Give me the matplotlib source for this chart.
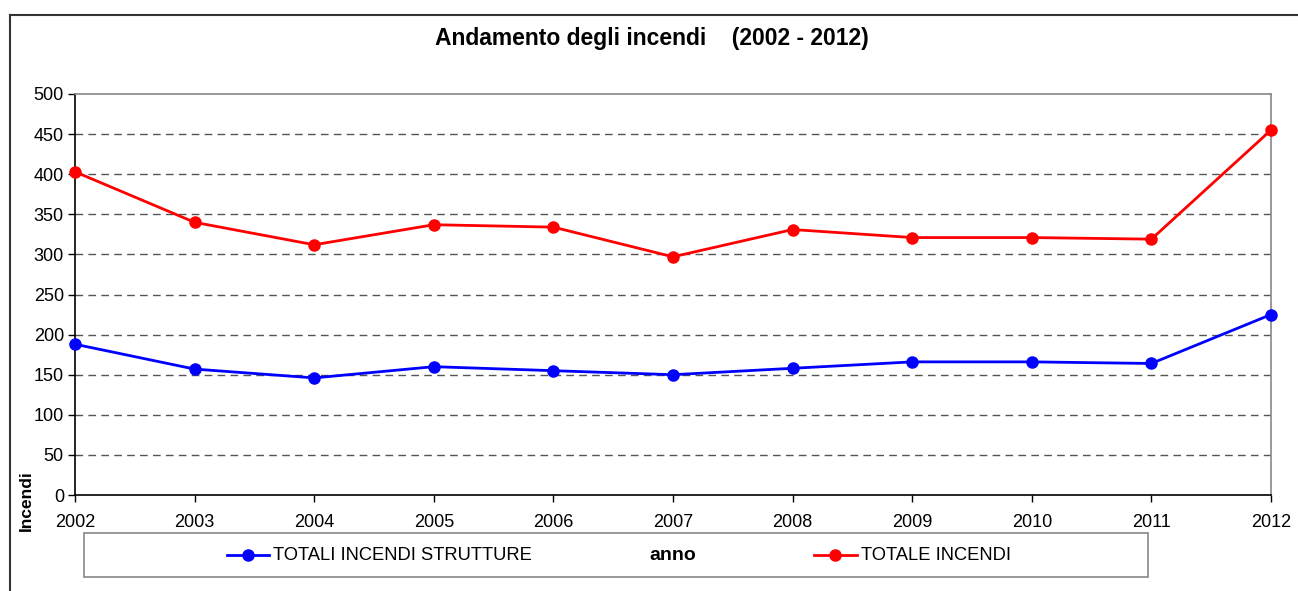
import matplotlib
matplotlib.use("Agg")
import matplotlib.pyplot as plt
from matplotlib.lines import Line2D
from matplotlib.patches import Rectangle

years = [2002, 2003, 2004, 2005, 2006, 2007, 2008, 2009, 2010, 2011, 2012]
totale_incendi = [403, 340, 312, 337, 334, 297, 331, 321, 321, 319, 455]
totali_strutture = [188, 157, 146, 160, 155, 150, 158, 166, 166, 164, 225]
yticks = [0, 50, 100, 150, 200, 250, 300, 350, 400, 450, 500]

plt.rcParams['font.family'] = ['Liberation Sans', 'DejaVu Sans']

W, H = 1298, 591
fig = plt.figure(figsize=(W / 100, H / 100), dpi=100)

def fx(px):
    return px / W

def fy(py):
    return 1 - py / H

ax = fig.add_axes([fx(75), fy(495), fx(1271) - fx(75), fy(94) - fy(495)])

ax.plot(years, totali_strutture, color='#0000ff', lw=2, marker='o', ms=8, zorder=3, clip_on=False)
ax.plot(years, totale_incendi, color='#ff0000', lw=2, marker='o', ms=8, zorder=3, clip_on=False)

ax.set_xlim(2002, 2012)
ax.set_ylim(0, 500)
ax.set_xticks(years)
ax.set_yticks(yticks)
ax.tick_params(axis='both', direction='out', length=5, width=1, labelsize=13, colors='black')
ax.tick_params(axis='x', pad=9)
ax.tick_params(axis='y', pad=3)
for y in yticks[1:-1]:
    ax.axhline(y, color='#555555', lw=1, ls=(0, (5.5, 3.8)), zorder=1)

ax.spines['left'].set_color('black')
ax.spines['bottom'].set_color('black')
ax.spines['top'].set_color('#888888')
ax.spines['right'].set_color('#888888')
for s in ax.spines.values():
    s.set_linewidth(1.2)

# y label
fig.text(fx(26), fy(501), 'Incendi', rotation=90, ha='center', va='center',
         fontsize=12.5, fontweight='bold')

# title
fig.text(fx(652), fy(38), 'Andamento degli incendi    (2002 - 2012)', ha='center', va='center',
         fontsize=16.5, fontweight='bold')

# outer chart frame
fig.add_artist(Line2D([fx(10), fx(1298)], [fy(15), fy(15)], color='#333333', lw=1.5))
fig.add_artist(Line2D([fx(10), fx(10)], [fy(15), fy(591)], color='#333333', lw=1.5))

# legend box
fig.add_artist(Rectangle((fx(84), fy(577)), fx(1148) - fx(84), fy(533) - fy(577),
                         fill=False, edgecolor='#888888', lw=1.2))
ly = fy(555)
fig.add_artist(Line2D([fx(227), fx(269)], [ly, ly], color='#0000ff', lw=2))
fig.add_artist(Line2D([fx(248)], [ly], color='#0000ff', marker='o', ms=8, lw=0))
fig.text(fx(273), ly, 'TOTALI INCENDI STRUTTURE', ha='left', va='center', fontsize=13.2)
fig.text(fx(673), ly, 'anno', ha='center', va='center', fontsize=14, fontweight='bold')
fig.add_artist(Line2D([fx(814), fx(857)], [ly, ly], color='#ff0000', lw=2))
fig.add_artist(Line2D([fx(835)], [ly], color='#ff0000', marker='o', ms=8, lw=0))
fig.text(fx(861), ly, 'TOTALE INCENDI', ha='left', va='center', fontsize=13.2)

fig.savefig('out.png', dpi=100)
